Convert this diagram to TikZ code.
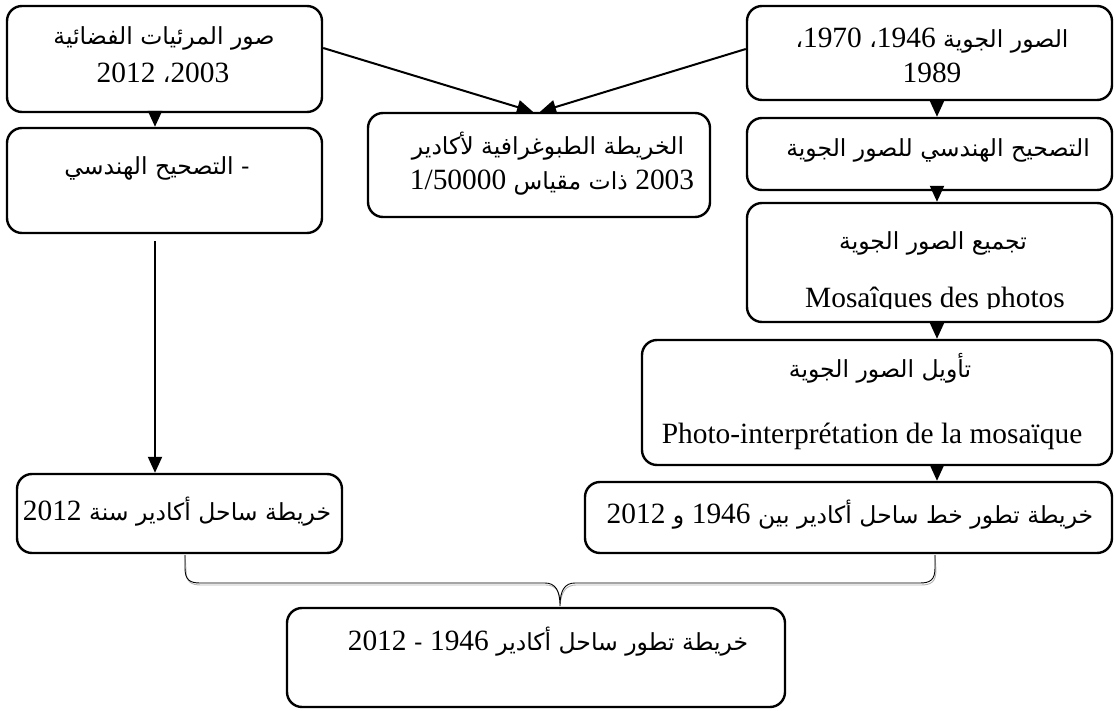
\documentclass[tikz,border=0pt]{standalone}
\usepackage{fontspec}
\setmainfont{Liberation Serif}
\newfontfamily\arabicfont[Script=Arabic,Scale=0.8]{DejaVu Sans}
\TeXXeTstate=1
\usetikzlibrary{arrows.meta,fit}
\newcommand{\AR}[1]{{\arabicfont\beginR #1\endR}}
\newcommand{\NUM}[1]{\beginL{\rmfamily #1}\endL}
\begin{document}
\begin{tikzpicture}[x=0.5pt,y=-0.5pt,
  every node/.style={font=\fontsize{14.7}{17.5}\selectfont},
  box/.style={draw,line width=1.2pt,rounded corners=7.5pt,inner sep=0pt},
  txt/.style={inner sep=0pt,anchor=base},
  arr/.style={line width=1pt,-{Triangle[length=8pt,width=7pt]}},
  brc/.style={line width=0.45pt}]
\useasboundingbox (0,0) rectangle (1114,711);
% boxes
\node[box,fit={(7,6)(322,112)}] (A) {};
\node[box,fit={(7,128)(322,233)}] (B) {};
\node[box,fit={(368,113)(710,217)}] (D) {};
\node[box,fit={(747,6)(1112,100)}] (E) {};
\node[box,fit={(747,118)(1112,190)}] (F) {};
\node[box,fit={(747,203)(1112,322)}] (G) {};
\node[box,fit={(642,340)(1112,465)}] (H) {};
\node[box,fit={(17,474)(342,553)}] (C) {};
\node[box,fit={(585,482)(1112,553)}] (I) {};
\node[box,fit={(287,608)(785,707)}] (J) {};
% texts
\node[txt] (At1) at (164,45) {\AR{صور المرئيات الفضائية}};
\node[txt] (At2) at (163,83) {\AR{\NUM{2003}، \NUM{2012}}};
\node[txt] (Bt1) at (157,175) {\AR{-  التصحيح الهندسي}};
\node[txt] (Dt1) at (548,155) {\AR{الخريطة الطبوغرافية لأكادير}};
\node[txt] (Dt2) at (552,190) {\AR{\NUM{2003} ذات مقياس \NUM{1/50000}}};
\node[txt] (Et1) at (932,48) {\AR{الصور الجوية \NUM{1946}، \NUM{1970}،}};
\node[txt] (Et2) at (932,83) {1989};
\node[txt] (Ft1) at (938,157) {\AR{التصحيح الهندسي للصور الجوية}};
\node[txt] (Gt1) at (933,250) {\AR{تجميع الصور الجوية}};
\begin{scope}
\clip (747,200) rectangle (1112,308.5);
\node[txt] (Gt2) at (935,307) {Mosaîques des photos};
\end{scope}
\node[txt] (Ht1) at (880,378) {\AR{تأويل الصور الجوية}};
\node[txt] (Ht2) at (872,443) {Photo-interprétation de la mosaïque};
\node[txt] (Ct1) at (177,520) {\AR{خريطة ساحل أكادير سنة \NUM{2012}}};
\node[txt] (It1) at (850,523) {\AR{خريطة تطور خط ساحل أكادير بين  \NUM{1946} و \NUM{2012}}};
\node[txt] (Jt1) at (548,650) {\AR{خريطة تطور ساحل أكادير \NUM{1946} - \NUM{2012}}};
% connectors
\coordinate (xab) at (155,0);
\coordinate (xr) at (937,0);
\coordinate (ya) at (0,48);
\coordinate (ye) at (0,49);
\coordinate (xd1) at (533,0);
\coordinate (xd2) at (540,0);
\draw[arr] (A.south -| xab) -- (B.north -| xab);
\draw[arr,shorten <=3.5pt] (B.south -| xab) -- (C.north -| xab);
\draw[arr] (A.east |- ya) -- (D.north -| xd1);
\draw[arr] (E.west |- ye) -- (D.north -| xd2);
\draw[arr] (E.south -| xr) -- (F.north -| xr);
\draw[arr] (F.south -| xr) -- (G.north -| xr);
\draw[arr] (G.south -| xr) -- (H.north -| xr);
\draw[arr] (H.south -| xr) -- (I.north -| xr);
% brace
\coordinate (bl) at (185,555);
\coordinate (br) at (935,555);
\coordinate (bt) at (560,606);
\draw[brc,gray!60,xshift=0.5pt,yshift=-1pt] (bl) -- (185,568) .. controls (185,580) and (190,583) .. (200,583) -- (545,583) .. controls (555,583) and (560,590) .. (bt) .. controls (560,590) and (565,583) .. (575,583) -- (920,583) .. controls (930,583) and (935,580) .. (935,568) -- (br);
\draw[brc] (bl) -- (185,568) .. controls (185,580) and (190,583) .. (200,583) -- (545,583) .. controls (555,583) and (560,590) .. (bt) .. controls (560,590) and (565,583) .. (575,583) -- (920,583) .. controls (930,583) and (935,580) .. (935,568) -- (br);
\end{tikzpicture}
\end{document}
